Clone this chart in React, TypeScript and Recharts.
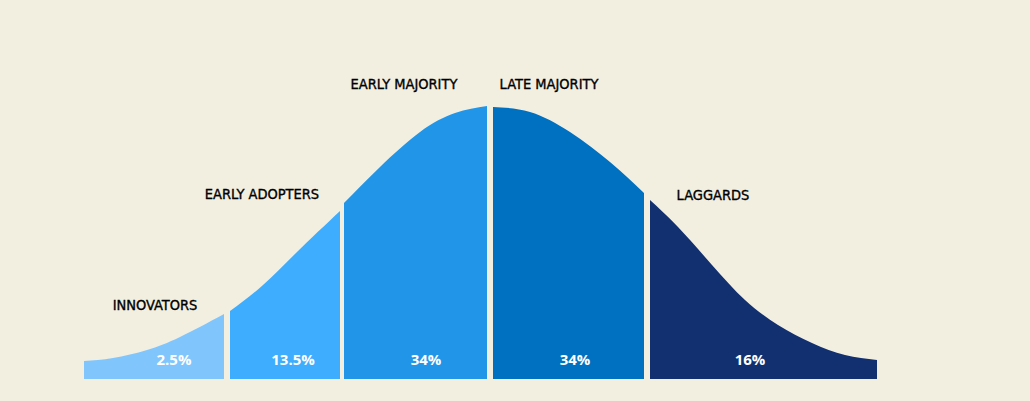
import { Area, ComposedChart, Scatter, XAxis, YAxis } from "recharts";

// x position along the curve and curve height, per segment
const innovatorsX = [84, 113, 147, 180, 224];
const innovatorsH = [18, 21, 29, 42, 65];
const earlyAdoptersX = [230, 263, 297, 340];
const earlyAdoptersH = [68, 94, 127, 168];
const earlyMajorityX = [344, 380, 420, 455, 487];
const earlyMajorityH = [176, 212, 247, 266, 273];
const lateMajorityX = [493, 530, 570, 610, 644];
const lateMajorityH = [272, 267, 247, 217, 186];
const laggardsX = [650, 678, 712, 745, 778, 812, 845, 877];
const laggardsH = [179, 152, 114, 79, 54, 36, 24, 19];

const segmentNames = ["INNOVATORS", "EARLY ADOPTERS", "EARLY MAJORITY", "LATE MAJORITY", "LAGGARDS"];
const segmentShares = ["2.5%", "13.5%", "34%", "34%", "16%"];
const nameX = [155, 262, 404, 549, 713];
const nameH = [74, 185, 295, 295, 184];
const shareX = [174, 293, 426, 575, 750];
const shareH = [20, 20, 20, 20, 20];

const SEGMENTS = [
  { key: "innovators", xs: innovatorsX, hs: innovatorsH, color: "#80c6fc" },
  { key: "earlyAdopters", xs: earlyAdoptersX, hs: earlyAdoptersH, color: "#3fadfd" },
  { key: "earlyMajority", xs: earlyMajorityX, hs: earlyMajorityH, color: "#2196e9" },
  { key: "lateMajority", xs: lateMajorityX, hs: lateMajorityH, color: "#0070c0" },
  { key: "laggards", xs: laggardsX, hs: laggardsH, color: "#12306f" },
];

const BG = "#f2efe1";

const curveData = SEGMENTS.flatMap((seg) =>
  seg.xs.map((x, i) => ({ x, [seg.key]: seg.hs[i] }))
).sort((a, b) => a.x - b.x);

const nameData = segmentNames.map((text, i) => ({ x: nameX[i], y: nameH[i], text }));
const shareData = segmentShares.map((text, i) => ({ x: shareX[i], y: shareH[i], text }));

function NameLabel(props: any) {
  const { cx, cy, payload } = props;
  return (
    <text
      x={cx}
      y={cy}
      textAnchor="middle"
      dominantBaseline="central"
      fontFamily="'Liberation Sans Narrow', 'DejaVu Sans Condensed', sans-serif"
      fontSize={14.5}
      fill="#000"
      stroke="#000"
      strokeWidth={0.35}
    >
      {payload.text}
    </text>
  );
}

function ShareLabel(props: any) {
  const { cx, cy, payload } = props;
  return (
    <text
      x={cx}
      y={cy}
      textAnchor="middle"
      dominantBaseline="central"
      fontFamily="'Open Sans', sans-serif"
      fontWeight={700}
      fontSize={15}
      fill="#ffffff"
    >
      {payload.text}
    </text>
  );
}

export default function App() {
  return (
    <div style={{ position: "absolute", top: 0, left: 0, width: 1030, height: 401, background: BG }}>
      <ComposedChart
        width={1030}
        height={401}
        data={curveData}
        margin={{ top: 0, right: 0, bottom: 22, left: 0 }}
      >
        <XAxis dataKey="x" type="number" domain={[0, 1030]} hide />
        <YAxis type="number" domain={[0, 379]} hide />
        {SEGMENTS.map((seg) => (
          <Area
            key={seg.key}
            dataKey={seg.key}
            type="natural"
            stroke="none"
            fill={seg.color}
            fillOpacity={1}
            connectNulls={false}
            isAnimationActive={false}
            dot={false}
            activeDot={false}
          />
        ))}
        <Scatter data={nameData} dataKey="y" shape={<NameLabel />} isAnimationActive={false} />
        <Scatter data={shareData} dataKey="y" shape={<ShareLabel />} isAnimationActive={false} />
      </ComposedChart>
    </div>
  );
}
